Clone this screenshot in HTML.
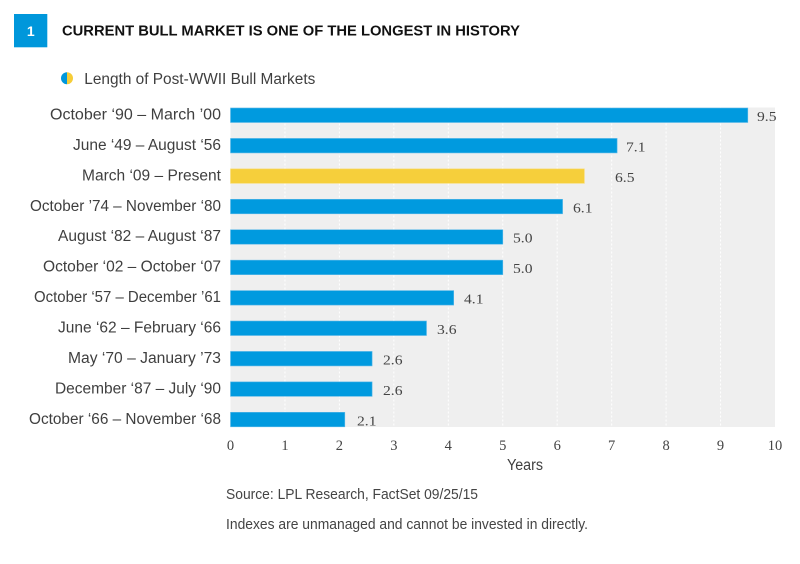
<!DOCTYPE html>
<html>
<head>
<meta charset="utf-8">
<style>
  html,body{margin:0;padding:0;background:#ffffff;}
  body{width:800px;height:564px;overflow:hidden;}
  svg{display:block;}
  .lab{font-family:"Liberation Sans Narrow","Liberation Sans",sans-serif;font-size:15.5px;fill:#3f3f3f;}
  .val{font-family:"Liberation Serif",serif;font-size:14px;fill:#444444;}
  .tick{font-family:"Liberation Serif",serif;font-size:14.5px;fill:#444444;}
  .foot{font-family:"Liberation Sans Narrow","Liberation Sans",sans-serif;font-size:14.5px;fill:#444444;}
</style>
</head>
<body>
<svg width="800" height="564" viewBox="0 0 800 564" xmlns="http://www.w3.org/2000/svg">
  <!-- header -->
  <rect x="14" y="14" width="33.3" height="33.3" fill="#0097DB"/>
  <text x="30.8" y="36" text-anchor="middle" font-family="Liberation Sans, sans-serif" font-weight="bold" font-size="14" fill="#ffffff">1</text>
  <text x="62" y="35.5" font-family="Liberation Sans Narrow, Liberation Sans, sans-serif" font-weight="bold" font-size="14.5" fill="#111111" textLength="458" lengthAdjust="spacingAndGlyphs">CURRENT BULL MARKET IS ONE OF THE LONGEST IN HISTORY</text>

  <!-- legend -->
  <path d="M67 72.3 A6 6 0 0 0 67 84.3 Z" fill="#0097DB"/>
  <path d="M67 72.3 A6 6 0 0 1 67 84.3 Z" fill="#F6CD38"/>
  <text x="84.3" y="84" class="lab" textLength="231" lengthAdjust="spacingAndGlyphs">Length of Post-WWII Bull Markets</text>

  <!-- plot background -->
  <rect x="230.5" y="107.5" width="544.5" height="319.5" fill="#EFEFEF"/>
  <!-- gridlines -->
  <g stroke="#ffffff" stroke-width="1" stroke-dasharray="2,2">
    <line x1="284.95" y1="107.5" x2="284.95" y2="427"/>
    <line x1="339.4" y1="107.5" x2="339.4" y2="427"/>
    <line x1="393.85" y1="107.5" x2="393.85" y2="427"/>
    <line x1="448.3" y1="107.5" x2="448.3" y2="427"/>
    <line x1="502.75" y1="107.5" x2="502.75" y2="427"/>
    <line x1="557.2" y1="107.5" x2="557.2" y2="427"/>
    <line x1="611.65" y1="107.5" x2="611.65" y2="427"/>
    <line x1="666.1" y1="107.5" x2="666.1" y2="427"/>
    <line x1="720.55" y1="107.5" x2="720.55" y2="427"/>
  </g>

  <!-- bars -->
  <g fill="#009ADF" stroke="#5DB9E8" stroke-width="0.6">
    <rect x="230.5" y="108" width="517.3" height="14.5"/>
    <rect x="230.5" y="138.43" width="386.6" height="14.5"/>
    <rect x="230.5" y="168.86" width="353.9" height="14.5" fill="#F6CF3B" stroke="#F9DD78"/>
    <rect x="230.5" y="199.29" width="332.1" height="14.5"/>
    <rect x="230.5" y="229.72" width="272.3" height="14.5"/>
    <rect x="230.5" y="260.15" width="272.3" height="14.5"/>
    <rect x="230.5" y="290.58" width="223.2" height="14.5"/>
    <rect x="230.5" y="321.01" width="196.0" height="14.5"/>
    <rect x="230.5" y="351.44" width="141.6" height="14.5"/>
    <rect x="230.5" y="381.87" width="141.6" height="14.5"/>
    <rect x="230.5" y="412.3" width="114.3" height="14.5"/>
  </g>

  <!-- category labels -->
  <g class="lab" text-anchor="end">
    <text x="221" y="119.5" textLength="171" lengthAdjust="spacingAndGlyphs">October ‘90 – March ’00</text>
    <text x="221" y="149.9" textLength="148" lengthAdjust="spacingAndGlyphs">June ‘49 – August ‘56</text>
    <text x="221" y="180.4" textLength="139" lengthAdjust="spacingAndGlyphs">March ‘09 – Present</text>
    <text x="221" y="210.8" textLength="191" lengthAdjust="spacingAndGlyphs">October ’74 – November ‘80</text>
    <text x="221" y="241.2" textLength="163" lengthAdjust="spacingAndGlyphs">August ‘82 – August ‘87</text>
    <text x="221" y="271.7" textLength="178" lengthAdjust="spacingAndGlyphs">October ‘02 – October ‘07</text>
    <text x="221" y="302.1" textLength="187" lengthAdjust="spacingAndGlyphs">October ‘57 – December ’61</text>
    <text x="221" y="332.5" textLength="163" lengthAdjust="spacingAndGlyphs">June ‘62 – February ‘66</text>
    <text x="221" y="362.9" textLength="153" lengthAdjust="spacingAndGlyphs">May ‘70 – January ’73</text>
    <text x="221" y="393.4" textLength="166" lengthAdjust="spacingAndGlyphs">December ‘87 – July ‘90</text>
    <text x="221" y="423.8" textLength="192" lengthAdjust="spacingAndGlyphs">October ‘66 – November ‘68</text>
  </g>

  <!-- value labels -->
  <g class="val">
    <text x="757" y="121" textLength="19.5" lengthAdjust="spacingAndGlyphs">9.5</text>
    <text x="626" y="151.4" textLength="19.5" lengthAdjust="spacingAndGlyphs">7.1</text>
    <text x="615" y="181.9" textLength="19.5" lengthAdjust="spacingAndGlyphs">6.5</text>
    <text x="573" y="212.3" textLength="19.5" lengthAdjust="spacingAndGlyphs">6.1</text>
    <text x="513" y="242.7" textLength="19.5" lengthAdjust="spacingAndGlyphs">5.0</text>
    <text x="513" y="273.2" textLength="19.5" lengthAdjust="spacingAndGlyphs">5.0</text>
    <text x="464" y="303.6" textLength="19.5" lengthAdjust="spacingAndGlyphs">4.1</text>
    <text x="437" y="334" textLength="19.5" lengthAdjust="spacingAndGlyphs">3.6</text>
    <text x="383" y="364.4" textLength="19.5" lengthAdjust="spacingAndGlyphs">2.6</text>
    <text x="383" y="394.9" textLength="19.5" lengthAdjust="spacingAndGlyphs">2.6</text>
    <text x="357" y="425.3" textLength="19.5" lengthAdjust="spacingAndGlyphs">2.1</text>
  </g>

  <!-- x ticks -->
  <g class="tick" text-anchor="middle">
    <text x="230.5" y="450">0</text>
    <text x="284.95" y="450">1</text>
    <text x="339.4" y="450">2</text>
    <text x="393.85" y="450">3</text>
    <text x="448.3" y="450">4</text>
    <text x="502.75" y="450">5</text>
    <text x="557.2" y="450">6</text>
    <text x="611.65" y="450">7</text>
    <text x="666.1" y="450">8</text>
    <text x="720.55" y="450">9</text>
    <text x="775" y="450">10</text>
  </g>
  <text x="507" y="470" class="lab" textLength="36" lengthAdjust="spacingAndGlyphs">Years</text>

  <!-- footer -->
  <text x="226" y="499" class="foot" textLength="252" lengthAdjust="spacingAndGlyphs">Source: LPL Research, FactSet   09/25/15</text>
  <text x="226" y="529" class="foot" textLength="362" lengthAdjust="spacingAndGlyphs">Indexes are unmanaged and cannot be invested in directly.</text>
</svg>
</body>
</html>
